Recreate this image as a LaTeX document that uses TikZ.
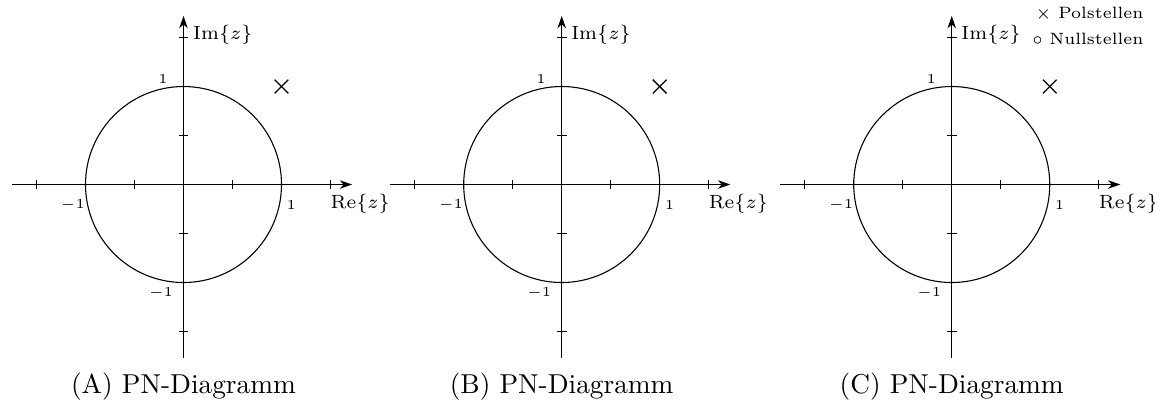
\documentclass[tikz,border=0pt]{standalone}
\usepackage{tikz}
\usetikzlibrary{arrows.meta,positioning}

\begin{document}
\begin{tikzpicture}[x=1.26cm,y=1.26cm,
    achse/.style={-{Stealth[length=1.6mm,width=1.1mm]}, line width=0.4pt},
    strich/.style={line width=0.4pt},
    wert/.style={font=\tiny, inner sep=0pt},
    beschr/.style={font=\scriptsize},
    pol/.style={line width=0.5pt},
    legende/.style={font=\fontsize{6}{7}\selectfont, inner sep=0pt, anchor=east}]
    \useasboundingbox (-1.8724,-2.2296) rectangle (9.913,1.8827);

    % drei PN-Diagramme nebeneinander
    \foreach \dx/\tag in {0/A,3.859/B,7.839/C}{
      \begin{scope}[shift={(\dx,0)}]
        % Achsen
        \draw[achse] (-1.75,0) -- (1.72,0)
            node[below, beschr, xshift=3pt] (re\tag) {$\mathrm{Re}\{z\}$};
        \draw[achse] (0,-1.77) -- (0,1.72)
            node[anchor=north west, beschr] (im\tag) {$\mathrm{Im}\{z\}$};
        % Striche im Abstand 0.5
        \foreach \t in {-1.5,-1,...,1.5}{
          \draw[strich] (\t,-0.05) -- (\t,0.05);
          \draw[strich] (-0.05,\t) -- (0.05,\t);
        }
        % Einheitskreis
        \draw[strich] (0,0) circle (1);
        \node[wert] (xp\tag) at (1.10,-0.21) {$1$};
        \node[wert] (xm\tag) at (-1.13,-0.21) {$-1$};
        \node[wert] (yp\tag) at (-0.21,1.08) {$1$};
        \node[wert] (ym\tag) at (-0.23,-1.11) {$-1$};
        % Polstelle bei 1+j
        \draw[pol] (0.93,0.93) -- (1.07,1.07);
        \draw[pol] (0.93,1.07) -- (1.07,0.93);
        % Unterschrift
        \node (cap\tag) at (0,-2.06) {(\tag) PN-Diagramm};
      \end{scope}
    }

    % Legende
    \node[legende] (pole) at (9.80,1.745) {$\times$ Polstellen};
    \node[legende] (null) at (9.80,1.49) {$\circ$ Nullstellen};
\end{tikzpicture}
\end{document}
